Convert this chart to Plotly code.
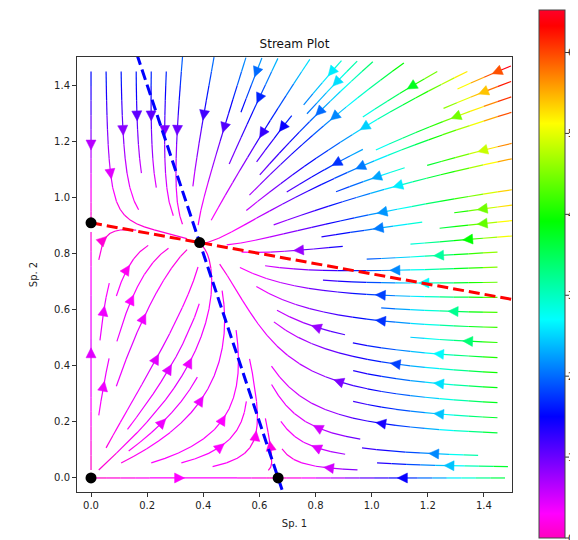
import numpy as np
import plotly.graph_objects as go

# ---------------- data / model description ----------------
# competition model: dx/dt = x*(G1 - S1*x - C1*y), dy/dt = y*(G2 - S2*y - C2*x)
GROWTH = [2.0, 1.8]
SELF_COMP = [3.0, 1.98]
CROSS_COMP = [1.0, 0.36]
GRID_RANGE = [0.0, 1.5]
GRID_POINTS = 28
X_TICKS = [0.0, 0.2, 0.4, 0.6, 0.8, 1.0, 1.2, 1.4]
Y_TICKS = [0.0, 0.2, 0.4, 0.6, 0.8, 1.0, 1.2, 1.4]
CBAR_TICKS = [0, 1, 2, 3, 4, 5, 6]
AXIS_RANGE = [-0.05, 1.5]
TITLE = "Stream Plot"
XLABEL = "Sp. 1"
YLABEL = "Sp. 2"
# matplotlib gist_rainbow segment data (position, rgb)
GIST_RAINBOW = [(0.000, (1.00, 0.00, 0.16)), (0.030, (1.00, 0.00, 0.00)),
                (0.215, (1.00, 1.00, 0.00)), (0.400, (0.00, 1.00, 0.00)),
                (0.586, (0.00, 1.00, 1.00)), (0.770, (0.00, 0.00, 1.00)),
                (0.954, (1.00, 0.00, 1.00)), (1.000, (1.00, 0.00, 0.75))]

# ---------------- field ----------------
xs = np.linspace(GRID_RANGE[0], GRID_RANGE[1], GRID_POINTS)
ys = np.linspace(GRID_RANGE[0], GRID_RANGE[1], GRID_POINTS)
XX, YY = np.meshgrid(xs, ys)
U = XX * (GROWTH[0] - SELF_COMP[0] * XX - CROSS_COMP[0] * YY)
V = YY * (GROWTH[1] - SELF_COMP[1] * YY - CROSS_COMP[1] * XX)
SPEED = np.sqrt(U ** 2 + V ** 2)

# reversed colormap
CMAP = sorted([(1.0 - p, c) for p, c in GIST_RAINBOW])


def cmap_rgb(t):
    t = min(max(t, 0.0), 1.0)
    for i in range(len(CMAP) - 1):
        p0, c0 = CMAP[i]
        p1, c1 = CMAP[i + 1]
        if t <= p1:
            f = 0.0 if p1 == p0 else (t - p0) / (p1 - p0)
            c = [c0[k] + (c1[k] - c0[k]) * f for k in range(3)]
            return "rgb(%d,%d,%d)" % tuple(int(round(v * 255)) for v in c)
    c = CMAP[-1][1]
    return "rgb(%d,%d,%d)" % tuple(int(round(v * 255)) for v in c)


COLORSCALE = [[p, "rgb(%d,%d,%d)" % tuple(int(round(v * 255)) for v in c)] for p, c in CMAP]


# ---------------- streamplot (classic matplotlib algorithm) ----------------
class InvalidIndex(Exception):
    pass


class Terminate(Exception):
    pass


def streamplot(xs, ys, U, V, density=1, minlength=0.1, maxlength=4.0):
    nx, ny = len(xs), len(ys)
    dxg, dyg = xs[1] - xs[0], ys[1] - ys[0]
    mnx = mny = int(30 * density)
    mask = np.zeros((mny, mnx))
    x_g2m = (mnx - 1) / nx
    y_g2m = (mny - 1) / ny
    x_m2g, y_m2g = 1.0 / x_g2m, 1.0 / y_g2m
    ug, vg = U / dxg, V / dyg
    u_ax, v_ax = ug / nx, vg / ny
    spd = np.sqrt(u_ax ** 2 + v_ax ** 2)
    st = {"cur": None, "traj": []}

    def within(xi, yi):
        return 0 <= xi <= nx - 1 and 0 <= yi <= ny - 1

    def g2m(xi, yi):
        return int(xi * x_g2m + 0.5), int(yi * y_g2m + 0.5)

    def upd(xm, ym):
        if st["cur"] != (xm, ym):
            if mask[ym, xm] == 0:
                st["traj"].append((ym, xm))
                mask[ym, xm] = 1
                st["cur"] = (xm, ym)
            else:
                raise InvalidIndex

    def update_traj(xg, yg):
        if not within(xg, yg):
            raise InvalidIndex
        xm, ym = g2m(xg, yg)
        upd(xm, ym)

    def interp(a, xi, yi):
        Ny, Nx = a.shape
        x, y = int(xi), int(yi)
        xn = x if x == Nx - 1 else x + 1
        yn = y if y == Ny - 1 else y + 1
        a00, a01, a10, a11 = a[y, x], a[y, xn], a[yn, x], a[yn, xn]
        xt, yt = xi - x, yi - y
        a0 = a00 * (1 - xt) + a01 * xt
        a1 = a10 * (1 - xt) + a11 * xt
        return a0 * (1 - yt) + a1 * yt

    def forward(xi, yi):
        ds_dt = interp(spd, xi, yi)
        if ds_dt == 0:
            raise Terminate
        dt_ds = 1.0 / ds_dt
        return interp(ug, xi, yi) * dt_ds, interp(vg, xi, yi) * dt_ds

    def backward(xi, yi):
        a, b = forward(xi, yi)
        return -a, -b

    def euler(xf, yf, f):
        xi, yi = xf[-1], yf[-1]
        cx, cy = f(xi, yi)
        if cx == 0:
            dsx = np.inf
        elif cx < 0:
            dsx = xi / -cx
        else:
            dsx = (nx - 1 - xi) / cx
        if cy == 0:
            dsy = np.inf
        elif cy < 0:
            dsy = yi / -cy
        else:
            dsy = (ny - 1 - yi) / cy
        ds = min(dsx, dsy)
        xf.append(xi + cx * ds)
        yf.append(yi + cy * ds)
        return ds, xf, yf

    maxds = min(1.0 / mnx, 1.0 / mny, 0.1)

    def rk12(x0, y0, f):
        maxerror = 0.003
        ds = maxds
        stotal = 0.0
        xi, yi = x0, y0
        xf, yf = [], []
        while within(xi, yi):
            xf.append(xi)
            yf.append(yi)
            try:
                k1x, k1y = f(xi, yi)
                k2x, k2y = f(xi + ds * k1x, yi + ds * k1y)
            except IndexError:
                ds, xf, yf = euler(xf, yf, f)
                stotal += ds
                break
            except Terminate:
                break
            dx1, dy1 = ds * k1x, ds * k1y
            dx2, dy2 = ds * 0.5 * (k1x + k2x), ds * 0.5 * (k1y + k2y)
            error = np.sqrt(((dx2 - dx1) / nx) ** 2 + ((dy2 - dy1) / ny) ** 2)
            if error < maxerror:
                xi += dx2
                yi += dy2
                try:
                    update_traj(xi, yi)
                except InvalidIndex:
                    break
                if stotal + ds > maxlength:
                    break
                stotal += ds
            if error == 0:
                ds = maxds
            else:
                ds = min(maxds, 0.85 * ds * (maxerror / error) ** 0.5)
        return stotal, xf, yf

    def integrate(x0, y0):
        stotal = 0.0
        xt_all, yt_all = [], []
        st["traj"] = []
        try:
            upd(*g2m(x0, y0))
        except InvalidIndex:
            return None
        s, xt, yt = rk12(x0, y0, backward)
        stotal += s
        xt_all += xt[::-1]
        yt_all += yt[::-1]
        st["cur"] = g2m(x0, y0)
        s, xt, yt = rk12(x0, y0, forward)
        if len(xt_all) > 0:
            xt, yt = xt[1:], yt[1:]
        stotal += s
        xt_all += xt
        yt_all += yt
        if stotal > minlength:
            return xt_all, yt_all
        for t in st["traj"]:
            mask[t] = 0
        return None

    def starts(shape):
        nyy, nxx = shape
        xfirst, yfirst, xlast, ylast = 0, 1, nxx - 1, nyy - 1
        x = y = 0
        direction = "right"
        for _ in range(nxx * nyy):
            yield x, y
            if direction == "right":
                x += 1
                if x >= xlast:
                    xlast -= 1
                    direction = "up"
            elif direction == "up":
                y += 1
                if y >= ylast:
                    ylast -= 1
                    direction = "left"
            elif direction == "left":
                x -= 1
                if x <= xfirst:
                    xfirst += 1
                    direction = "down"
            elif direction == "down":
                y -= 1
                if y <= yfirst:
                    yfirst += 1
                    direction = "right"

    trajs = []
    for xm, ym in starts(mask.shape):
        if mask[ym, xm] == 0:
            t = integrate(xm * x_m2g, ym * y_m2g)
            if t is not None:
                trajs.append(t)

    out = []
    for tgx, tgy in trajs:
        tgx = np.array(tgx, dtype=float)
        tgy = np.array(tgy, dtype=float)
        tx = tgx * dxg + xs[0]
        ty = tgy * dyg + ys[0]
        out.append((tgx, tgy, tx, ty))
    return out


def interp_arr(a, xi, yi):
    Ny, Nx = a.shape
    x = np.clip(xi.astype(int), 0, Nx - 1)
    y = np.clip(yi.astype(int), 0, Ny - 1)
    xn = np.clip(x + 1, 0, Nx - 1)
    yn = np.clip(y + 1, 0, Ny - 1)
    xt, yt = xi - x, yi - y
    a0 = a[y, x] * (1 - xt) + a[y, xn] * xt
    a1 = a[yn, x] * (1 - xt) + a[yn, xn] * xt
    return a0 * (1 - yt) + a1 * yt


streams = streamplot(xs, ys, U, V)
vmin, vmax = float(SPEED.min()), float(SPEED.max())

# ---------------- build traces ----------------
NB = 96
bin_lines = {}
bin_arrows = {}
PLOT_PX = 435.0
sx = PLOT_PX / (AXIS_RANGE[1] - AXIS_RANGE[0])
sy = PLOT_PX / (AXIS_RANGE[1] - AXIS_RANGE[0])
HEAD_LEN, HEAD_HALF, SHRINK = 10.0, 5.0, 1.5


def vbin(v):
    t = (v - vmin) / (vmax - vmin)
    return int(min(max(t * NB, 0), NB - 1))


for tgx, tgy, tx, ty in streams:
    cv = interp_arr(SPEED, tgx, tgy)[:-1]
    bins = [vbin(v) for v in cv]
    i = 0
    while i < len(bins):
        j = i
        while j + 1 < len(bins) and bins[j + 1] == bins[i]:
            j += 1
        lx, ly = bin_lines.setdefault(bins[i], ([], []))
        lx.extend(list(tx[i:j + 2]) + [None])
        ly.extend(list(ty[i:j + 2]) + [None])
        i = j + 1
    # arrow half way
    s = np.cumsum(np.hypot(np.diff(tx), np.diff(ty)))
    n = int(np.searchsorted(s, s[-1] / 2.0))
    n = min(n, len(tx) - 2)
    hx, hy = np.mean(tx[n:n + 2]), np.mean(ty[n:n + 2])
    k = n
    ddx, ddy = (tx[k + 1] - tx[k]) * sx, (ty[k + 1] - ty[k]) * sy
    while np.hypot(ddx, ddy) < 1e-9 and k + 2 < len(tx):
        k += 1
        ddx, ddy = (tx[k + 1] - tx[k]) * sx, (ty[k + 1] - ty[k]) * sy
    L = np.hypot(ddx, ddy)
    if L < 1e-9:
        continue
    ux, uy = ddx / L, ddy / L
    tipx, tipy = hx * sx - SHRINK * ux, hy * sy - SHRINK * uy
    bx, by = tipx - HEAD_LEN * ux, tipy - HEAD_LEN * uy
    px, py = -uy, ux
    poly_x = [tipx / sx, (bx + HEAD_HALF * px) / sx, (bx - HEAD_HALF * px) / sx, tipx / sx]
    poly_y = [tipy / sy, (by + HEAD_HALF * py) / sy, (by - HEAD_HALF * py) / sy, tipy / sy]
    b = vbin(cv[min(n, len(cv) - 1)])
    ax_, ay_ = bin_arrows.setdefault(b, ([], []))
    ax_.extend(poly_x + [None])
    ay_.extend(poly_y + [None])

fig = go.Figure()
for b in sorted(bin_lines):
    c = cmap_rgb((b + 0.5) / NB)
    lx, ly = bin_lines[b]
    fig.add_trace(go.Scatter(x=lx, y=ly, mode="lines", line=dict(color=c, width=1.2),
                             hoverinfo="skip", showlegend=False))
for b in sorted(bin_arrows):
    c = cmap_rgb((b + 0.5) / NB)
    ax_, ay_ = bin_arrows[b]
    fig.add_trace(go.Scatter(x=ax_, y=ay_, mode="lines", fill="toself", fillcolor=c,
                             line=dict(color=c, width=0.5), hoverinfo="skip", showlegend=False))

# nullclines
nx_line = np.array([GRID_RANGE[0], GRID_RANGE[1]])
red_y = (GROWTH[1] - CROSS_COMP[1] * nx_line) / SELF_COMP[1]
fig.add_trace(go.Scatter(x=nx_line, y=red_y, mode="lines",
                         line=dict(color="rgb(255,0,0)", width=3, dash="11px,5px"),
                         hoverinfo="skip", showlegend=False))
ny_line = np.array([AXIS_RANGE[0] - 0.1, GRID_RANGE[1] + 0.1])
blue_x = (GROWTH[0] - CROSS_COMP[0] * ny_line) / SELF_COMP[0]
fig.add_trace(go.Scatter(x=blue_x, y=ny_line, mode="lines",
                         line=dict(color="rgb(0,0,255)", width=3, dash="11px,5px"),
                         hoverinfo="skip", showlegend=False))

# equilibria
A = np.array([[SELF_COMP[0], CROSS_COMP[0]], [CROSS_COMP[1], SELF_COMP[1]]])
inner = np.linalg.solve(A, np.array(GROWTH))
eq_x = [0.0, 0.0, GROWTH[0] / SELF_COMP[0], inner[0]]
eq_y = [0.0, GROWTH[1] / SELF_COMP[1], 0.0, inner[1]]
fig.add_trace(go.Scatter(x=eq_x, y=eq_y, mode="markers",
                         marker=dict(color="black", size=11), hoverinfo="skip", showlegend=False))

# ---------------- geometry (figure is 570x532 placed at (8, 8) by the page body) -------------
ML, MT, PW, PH = 69, 49, 435, 435
CB_LEFT, CB_THICK, CB_TOP, CB_LEN = 531, 26, 2, 528     # figure pixels
cb_x = (CB_LEFT - ML) / PW
cb_y = (MT + PH - (CB_TOP + CB_LEN / 2)) / PH

# colorbar carrier
fig.add_trace(go.Scatter(
    x=[eq_x[0]], y=[eq_y[0]], mode="markers", hoverinfo="skip", showlegend=False,
    marker=dict(size=1, opacity=0, color=[vmin], cmin=vmin, cmax=vmax, colorscale=COLORSCALE,
                showscale=True,
                colorbar=dict(thickness=CB_THICK, len=CB_LEN, lenmode="pixels", x=cb_x,
                              xanchor="left", y=cb_y, yanchor="middle", xpad=0, ypad=0,
                              outlinewidth=1, outlinecolor="#444", ticks="", ticklen=0,
                              ticklabeloverflow="allow",
                              tickvals=CBAR_TICKS, tickfont=dict(size=10, color="#222",
                                                                 family="DejaVu Sans")))))

# colorbar tick marks
shapes = []
for v in CBAR_TICKS:
    fy = CB_TOP + CB_LEN - (v - vmin) / (vmax - vmin) * CB_LEN
    py_ = (MT + PH - fy) / PH
    x0 = (CB_LEFT + CB_THICK - ML) / PW
    x1 = (CB_LEFT + CB_THICK + 4 - ML) / PW
    shapes.append(dict(type="line", xref="paper", yref="paper", x0=x0, x1=x1, y0=py_, y1=py_,
                       line=dict(color="#333", width=1)))

axis_common = dict(range=AXIS_RANGE, showgrid=False, zeroline=False, showline=True, mirror=True,
                   linecolor="#333", linewidth=1, ticks="outside", ticklen=4, tickcolor="#333",
                   tickwidth=1, tickformat=".1f",
                   tickfont=dict(size=10, color="#222", family="DejaVu Sans"))
fig.update_layout(
    width=570, height=532,
    margin=dict(l=ML, r=570 - ML - PW, t=MT, b=532 - MT - PH, autoexpand=False),
    paper_bgcolor="white", plot_bgcolor="white",
    font=dict(family="DejaVu Sans", color="#222"),
    shapes=shapes,
    title=dict(text=TITLE, x=0.5, xref="paper", xanchor="center", y=1 - 36 / 532,
               yref="container", yanchor="middle", font=dict(size=12, color="#111")),
    xaxis=dict(axis_common, tickvals=X_TICKS, automargin=False,
               title=dict(text=XLABEL, font=dict(size=10), standoff=9)),
    yaxis=dict(axis_common, tickvals=Y_TICKS, automargin=False,
               title=dict(text=YLABEL, font=dict(size=10), standoff=14)),
)
fig.write_html("out.html")
